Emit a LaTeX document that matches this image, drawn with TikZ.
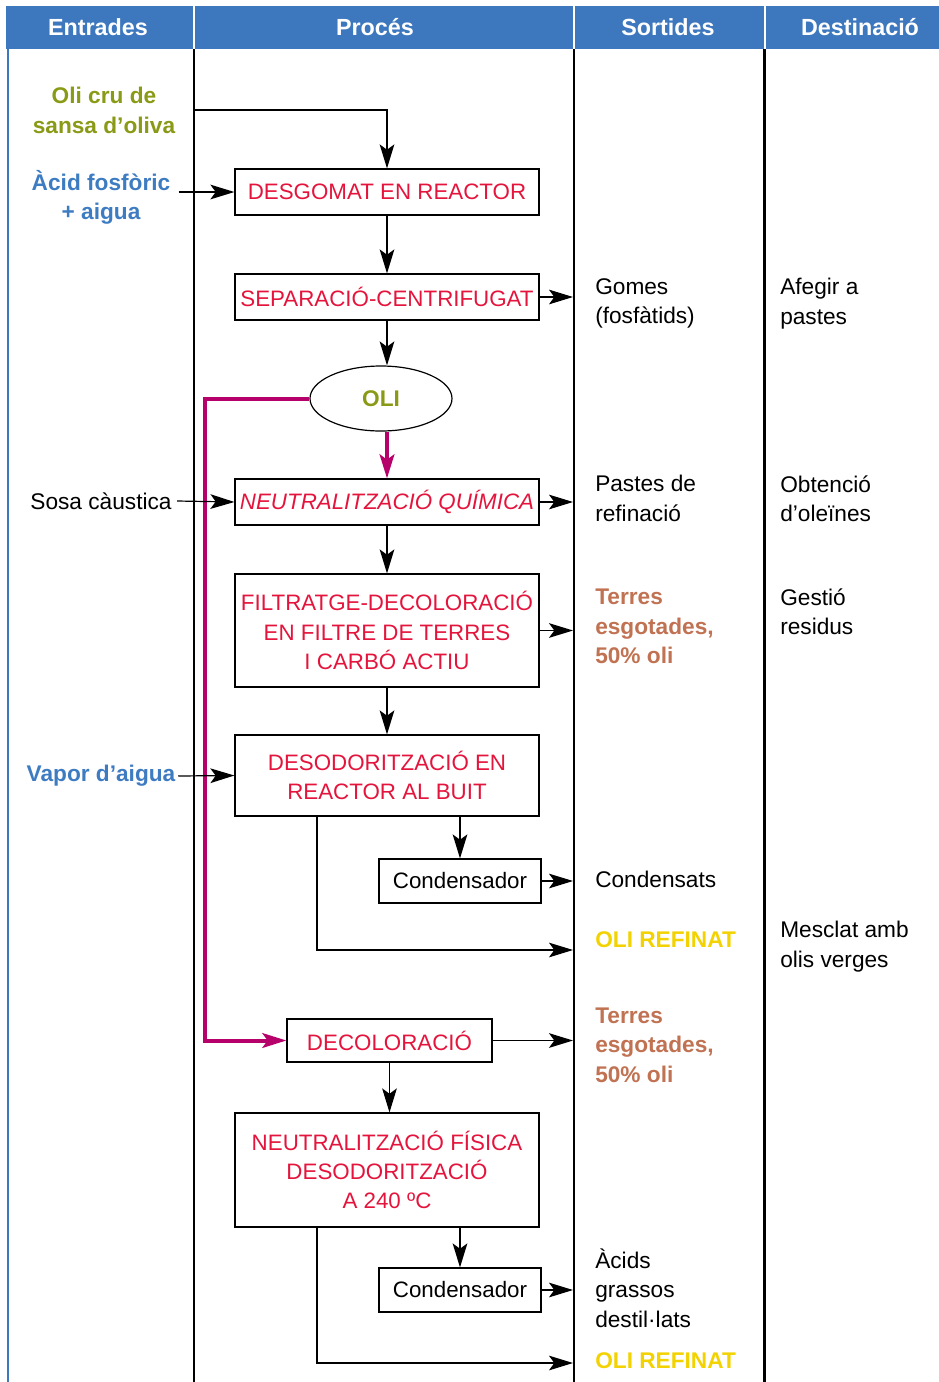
\documentclass[tikz,border=0pt]{standalone}
\usepackage{fontspec}
\setmainfont{Liberation Sans}
\usetikzlibrary{arrows.meta,shapes.geometric}
\definecolor{capblau}{RGB}{61,120,190}
\definecolor{vermell}{RGB}{228,20,60}
\definecolor{oliva}{RGB}{138,154,22}
\definecolor{blauent}{RGB}{62,124,194}
\definecolor{magenta2}{RGB}{182,0,106}
\definecolor{terra}{RGB}{192,114,82}
\definecolor{groc}{RGB}{242,210,0}

\begin{document}
\begin{tikzpicture}[x=0.75pt,y=0.75pt,yscale=-1,xscale=1,
  font=\fontsize{17}{22}\selectfont,
  caixa/.style={draw,line width=0.9pt,text=vermell,align=center,inner sep=0pt,minimum width=228pt,font=\fontsize{16.75}{22}\selectfont},
  fletxa/.style={line width=0.9pt,-{Stealth[length=18pt,width=11pt,inset=4pt]}},
  fletxamag/.style={draw=magenta2,line width=3pt,-{Stealth[length=18pt,width=11pt,inset=4pt]}},
  entrada/.style={align=center,inner sep=0pt,font=\fontsize{17}{22}\selectfont\bfseries},
  sortida/.style={anchor=west,align=left,inner sep=0pt},
  capcal/.style={text=white,font=\fontsize{17.5}{22}\selectfont\bfseries}]
\useasboundingbox (0,0) rectangle (939,1382);

% capcalera i columnes
\fill[capblau] (6,6) rectangle (939,49);
\draw[white,line width=1.5pt] (193.5,6) -- (193.5,49) (574,6) -- (574,49) (764.5,6) -- (764.5,49);
\draw[capblau,line width=0.8pt] (8,49) -- (8,1382);
\draw[line width=1.6pt] (194,49) -- (194,1382) (574,49) -- (574,1382) (764.5,49) -- (764.5,1382);
\node[capcal] (h1) at (98,27) {Entrades};
\node[capcal] (h2) at (375,27) {Procés};
\node[capcal] (h3) at (668,27) {Sortides};
\node[capcal] (h4) at (860,27) {Destinació};

\coordinate (s) at (573,0);

% proces
\node[caixa,minimum height=34.5pt] (desg) at (387,192) {DESGOMAT EN REACTOR};
\node[caixa,minimum height=34.5pt] (sep) at (387,297) {SEPARACIÓ-CENTRIFUGAT};
\node[draw,ellipse,line width=0.9pt,minimum width=106.5pt,minimum height=48.75pt,inner sep=0pt,text=oliva,font=\fontsize{17}{22}\selectfont\bfseries] (oli) at (381,398.5) {OLI};
\node[caixa,minimum height=34.5pt,font=\fontsize{16.75}{22}\selectfont\itshape] (neutq) at (387,502) {NEUTRALITZACIÓ QUÍMICA};
\node[caixa,minimum height=84.75pt] (filt) at (387,630.5) {FILTRATGE-DECOLORACIÓ\\EN FILTRE DE TERRES\\I CARBÓ ACTIU};
\node[caixa,minimum height=60.75pt] (desod) at (387,775.5) {DESODORITZACIÓ EN\\REACTOR AL BUIT};
\node[caixa,minimum width=121.5pt,minimum height=33pt,text=black] (cond1) at (460,881) {Condensador};
\node[caixa,minimum width=153.75pt,minimum height=32.25pt] (decol) at (389.5,1040.5) {DECOLORACIÓ};
\node[caixa,minimum height=85.5pt] (neutf) at (387,1170) {NEUTRALITZACIÓ FÍSICA\\DESODORITZACIÓ\\A 240 ºC};
\node[caixa,minimum width=121.5pt,minimum height=33pt,text=black] (cond2) at (460,1290) {Condensador};

% entrades
\node[entrada,text=oliva] (olicru) at (104,110.5) {Oli cru de\\sansa d’oliva};
\node[entrada,text=blauent] (acid) at (101,197.5) {Àcid fosfòric\\+ aigua};
\node[inner sep=0pt] (sosa) at (101,501) {Sosa càustica};
\node[entrada,text=blauent] (vapor) at (101,776) {Vapor d’aigua};

% sortides
\node[sortida] (gomes) at (595,303.5) {Gomes\\(fosfàtids)};
\node[sortida] (pastes) at (595,498.5) {Pastes de\\refinació};
\node[sortida,text=terra,font=\fontsize{17}{22}\selectfont\bfseries] (terres1) at (595,626.5) {Terres\\esgotades,\\50\% oli};
\node[sortida] (condens) at (595,879) {Condensats};
\node[sortida,text=groc,font=\fontsize{17}{22}\selectfont\bfseries] (ref1) at (595,940) {OLI REFINAT};
\node[sortida,text=terra,font=\fontsize{17}{22}\selectfont\bfseries] (terres2) at (595,1045) {Terres\\esgotades,\\50\% oli};
\node[sortida] (acids) at (595,1288) {Àcids\\grassos\\destil·lats};
\node[sortida,text=groc,font=\fontsize{17}{22}\selectfont\bfseries] (ref2) at (595,1361) {OLI REFINAT};

% destinacio
\node[sortida] (afegir) at (780,303.5) {Afegir a\\pastes};
\node[sortida] (obten) at (780,498.5) {Obtenció\\d’oleïnes};
\node[sortida] (gestio) at (780,612) {Gestió\\residus};
\node[sortida] (mesclat) at (780,946.5) {Mesclat amb\\olis verges};

% connexions
\coordinate (c1) at (194,110);
\draw[fletxa] (c1) -| (desg.north);
\draw[fletxa] ([xshift=6pt]acid.east |- desg.west) -- (desg.west);
\draw[fletxa] (desg.south) -- (sep.north);
\draw[fletxa] (sep.east) -- (sep.east -| s);
\draw[fletxa] (sep.south) -- (sep.south |- oli.north);
\draw[fletxamag] (oli.south -| neutq.north) -- (neutq.north);
\coordinate (m1) at (205,397);
\draw[fletxamag] (oli.west) -- (oli.west -| m1) |- (decol.west);
\draw[fletxa] ([xshift=4pt]sosa.east) -- (neutq.west);
\draw[fletxa] (neutq.east) -- (neutq.east -| s);
\draw[fletxa] (neutq.south) -- (filt.north);
\draw[fletxa] (filt.east) -- (filt.east -| s);
\draw[fletxa] (filt.south) -- (desod.north);
\draw[fletxa] ([xshift=2pt]vapor.east) -- (desod.west);
\draw[fletxa] (desod.south -| cond1.north) -- (cond1.north);
\draw[fletxa] (cond1.east) -- (cond1.east -| s);
\coordinate (r1) at (317,950);
\draw[fletxa] (desod.south -| r1) |- (r1 -| s);
\draw[fletxa] (decol.east) -- (decol.east -| s);
\draw[fletxa] (decol.south) -- (decol.south |- neutf.north);
\draw[fletxa] (neutf.south -| cond2.north) -- (cond2.north);
\draw[fletxa] (cond2.east) -- (cond2.east -| s);
\coordinate (r2) at (317,1363);
\draw[fletxa] (neutf.south -| r2) |- (r2 -| s);
\end{tikzpicture}
\end{document}
